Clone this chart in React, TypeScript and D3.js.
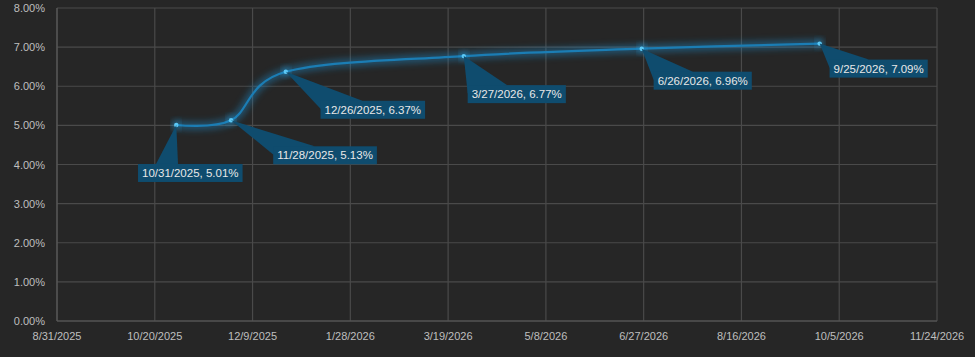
import React, { useEffect, useRef } from "react";
import * as d3 from "d3";

const dates = ["2025-10-31", "2025-11-28", "2025-12-26", "2026-03-27", "2026-06-26", "2026-09-25"];
const rates = [5.01, 5.13, 6.37, 6.77, 6.96, 7.09];
const labels = ["10/31/2025, 5.01%", "11/28/2025, 5.13%", "12/26/2025, 6.37%", "3/27/2026, 6.77%", "6/26/2026, 6.96%", "9/25/2026, 7.09%"];
const xTickLabels = ["8/31/2025", "10/20/2025", "12/9/2025", "1/28/2026", "3/19/2026", "5/8/2026", "6/27/2026", "8/16/2026", "10/5/2026", "11/24/2026"];
const yTicks = [0, 1, 2, 3, 4, 5, 6, 7, 8];

// label box centre offsets relative to each point (layout, not data)
const labelOffsets: [number, number][] = [[14, 48], [94, 35], [87, 38], [53, 38], [61, 32], [59, 25]];

const W = 975, H = 357;
const M = { left: 57, right: 38, top: 8, bottom: 36 };

function parseMDY(s: string) {
  const [m, d, y] = s.split("/").map(Number);
  return new Date(Date.UTC(y, m - 1, d));
}

export default function App() {
  const ref = useRef<SVGSVGElement>(null);
  useEffect(() => {
    const svg = d3.select(ref.current!);
    svg.selectAll("*").remove();
    const x0 = parseMDY(xTickLabels[0]);
    const x1 = parseMDY(xTickLabels[xTickLabels.length - 1]);
    const x = d3.scaleUtc().domain([x0, x1]).range([M.left, W - M.right]);
    const y = d3.scaleLinear().domain([0, 8]).range([H - M.bottom, M.top]);

    const defs = svg.append("defs");
    const f = defs.append("filter").attr("id", "glow").attr("x", "-20%").attr("y", "-50%").attr("width", "140%").attr("height", "200%");
    f.append("feGaussianBlur").attr("stdDeviation", 3.5);

    svg.append("rect").attr("width", W).attr("height", H).attr("fill", "#262626");

    const font = "'Liberation Sans', Arial, sans-serif";
    svg.append("g").selectAll("line").data(yTicks).join("line")
      .attr("x1", M.left).attr("x2", W - M.right)
      .attr("y1", d => y(d)).attr("y2", d => y(d))
      .attr("stroke", "#4a4a4a").attr("stroke-width", 1.2);
    const xt = xTickLabels.map(parseMDY);
    svg.append("g").selectAll("line").data(xt).join("line")
      .attr("x1", d => x(d)).attr("x2", d => x(d))
      .attr("y1", M.top).attr("y2", H - M.bottom)
      .attr("stroke", "#4a4a4a").attr("stroke-width", 1.2);
    svg.append("line").attr("x1", M.left).attr("x2", W - M.right).attr("y1", y(0)).attr("y2", y(0)).attr("stroke", "#595959").attr("stroke-width", 1.2);
    svg.append("line").attr("x1", M.left).attr("x2", M.left).attr("y1", M.top).attr("y2", y(0)).attr("stroke", "#595959").attr("stroke-width", 1.2);

    svg.append("g").selectAll("text").data(yTicks).join("text")
      .attr("x", M.left - 12).attr("y", d => y(d) + 4)
      .attr("text-anchor", "end").attr("fill", "#bfbfbf")
      .attr("font-family", font).attr("font-size", 11)
      .text(d => d3.format(".2f")(d) + "%");
    svg.append("g").selectAll("text").data(xt).join("text")
      .attr("x", d => x(d)).attr("y", H - M.bottom + 19)
      .attr("text-anchor", "middle").attr("fill", "#bfbfbf")
      .attr("font-family", font).attr("font-size", 11)
      .text((_, i) => xTickLabels[i]);

    const pts = dates.map((d, i) => ({ date: new Date(d + "T00:00:00Z"), v: rates[i], label: labels[i], off: labelOffsets[i] }));
    const line = d3.line<any>().x(d => x(d.date)).y(d => y(d.v)).curve(d3.curveCardinal.tension(0));

    svg.append("path").attr("d", line(pts)!).attr("fill", "none").attr("stroke", "#1a8fd0").attr("stroke-width", 7).attr("opacity", 0.5).attr("filter", "url(#glow)");
    svg.append("path").attr("d", line(pts)!).attr("fill", "none").attr("stroke", "#1b7db4").attr("stroke-width", 2.2);

    svg.append("g").selectAll("circle").data(pts).join("circle")
      .attr("cx", d => x(d.date)).attr("cy", d => y(d.v)).attr("r", 4)
      .attr("fill", "#2aa6e8").attr("opacity", 0.6).attr("filter", "url(#glow)");
    svg.append("g").selectAll("circle").data(pts).join("circle")
      .attr("cx", d => x(d.date)).attr("cy", d => y(d.v)).attr("r", 2.2)
      .attr("fill", "#5cc8f5");

    const g = svg.append("g");
    pts.forEach((p, i) => {
      const px = x(p.date), py = y(p.v);
      const cx = px + p.off[0], cy = py + p.off[1];
      const t = g.append("text").attr("x", cx).attr("y", cy + 4).attr("text-anchor", "middle")
        .attr("fill", "#e8e8e8").attr("font-family", font).attr("font-size", 11.5).text(p.label);
      const tw = (t.node() as SVGTextElement).getComputedTextLength();
      const w = tw + 8, h = 18;
      const left = cx - w / 2, top = cy - h / 2;
      let base: [number, number][];
      if (i === 0) base = [[left + 18, top], [left + 40, top]];
      else base = [[left, top + h * 0.45], [left + w * 0.4, top]];
      g.insert("path", "text").attr("d", `M${px},${py}L${base[0][0]},${base[0][1]}L${base[1][0]},${base[1][1]}Z`).attr("fill", "#0f4c6e");
      g.insert("rect", "text").attr("x", left).attr("y", top).attr("width", w).attr("height", h).attr("fill", "#0f4c6e");
    });
  }, []);
  return (
    <svg ref={ref} width={W} height={H} style={{ position: "absolute", left: 0, top: 0, display: "block" }} />
  );
}
